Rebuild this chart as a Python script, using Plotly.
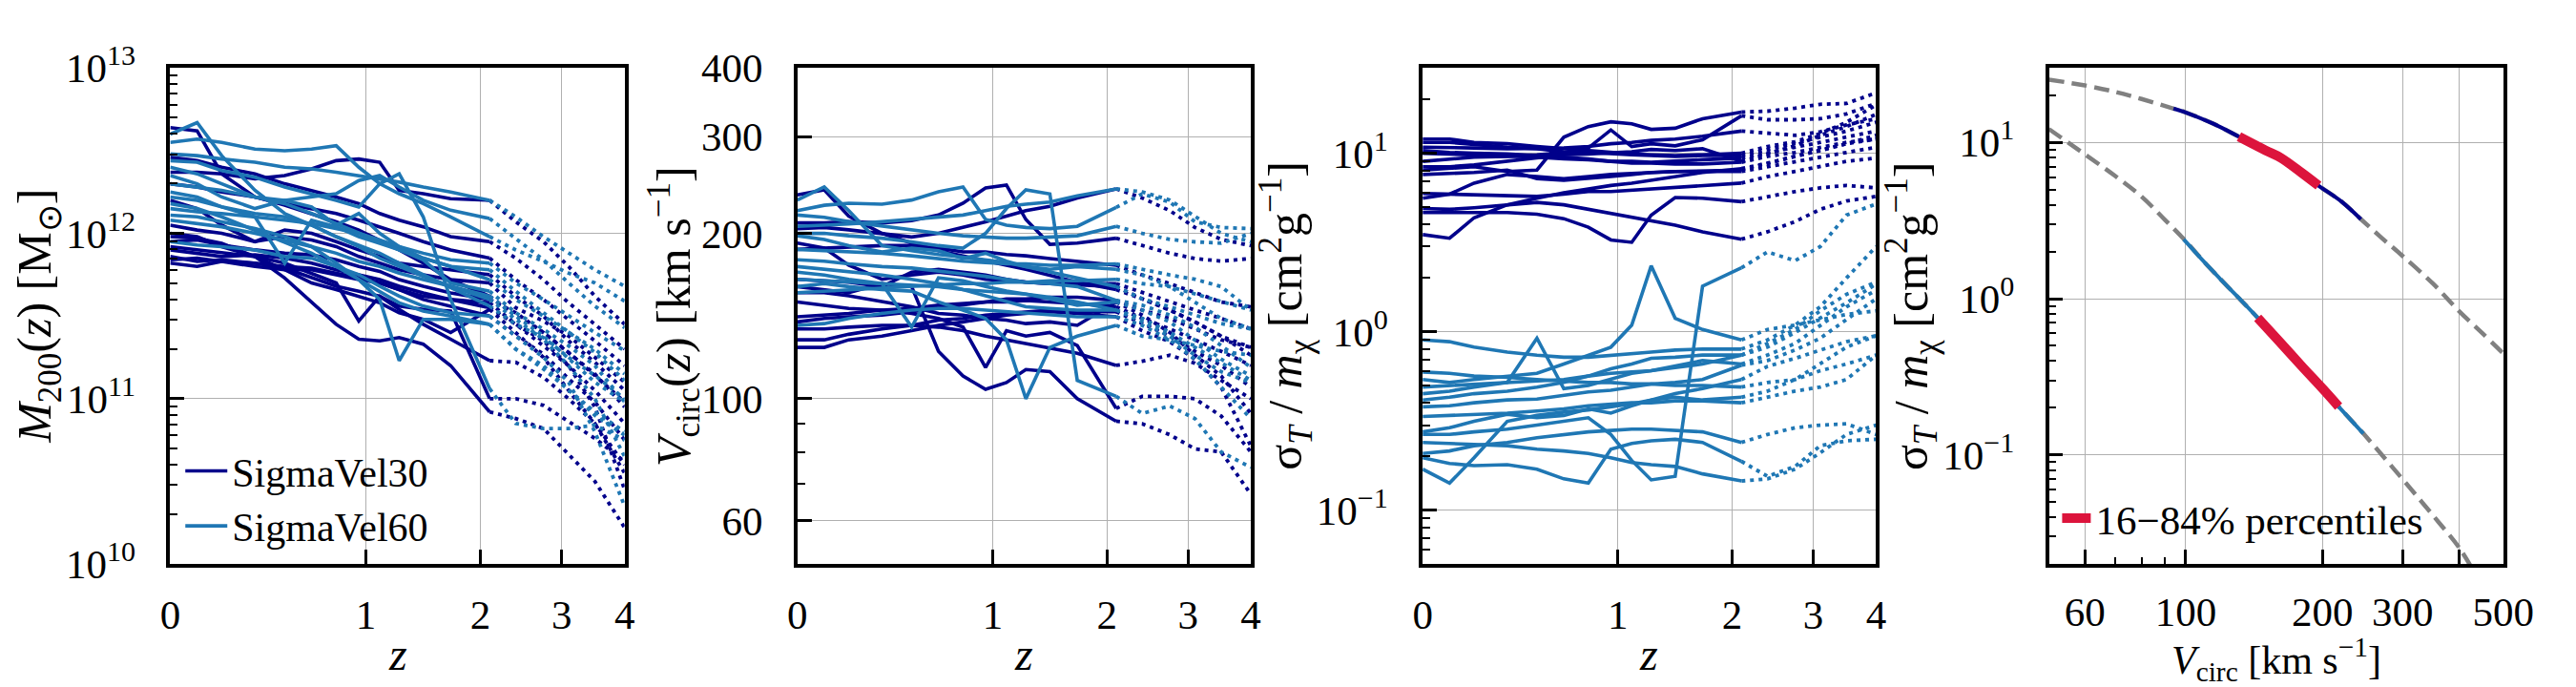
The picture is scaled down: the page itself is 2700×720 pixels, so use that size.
import plotly.graph_objects as go
from plotly.subplots import make_subplots

# redshift grid of the halo tracks: solid part (z <= 2.1) and dotted part
Z_SOLID = [0, 0.1, 0.2, 0.35, 0.5, 0.65, 0.8, 0.95, 1.1, 1.25, 1.45, 1.7, 2.1]
Z_DOTTED = [2.1, 2.4, 2.75, 3.1, 3.5, 4.0]
N_SOLID = len(Z_SOLID)

# log10(M200 / Msun), one row per halo (13 solid values, then 5 dotted)
LOGM_SV30 = [
    [12.64, 12.62, 12.36, 12.22, 12.17, 12.12, 12.07, 12.02, 11.96, 11.90, 11.82, 11.72, 11.62, 11.50, 11.40, 11.28, 11.14, 10.98],
    [12.37, 12.37, 12.36, 12.33, 12.35, 12.39, 12.44, 12.45, 12.43, 12.26, 12.24, 12.21, 12.20, 12.07, 11.95, 11.80, 11.62, 11.45],
    [11.98, 11.97, 11.94, 11.86, 11.73, 11.58, 11.45, 11.36, 11.35, 11.37, 11.33, 11.20, 10.92, 10.88, 10.82, 10.66, 10.50, 10.22],
    [11.92, 11.90, 11.88, 11.86, 11.82, 11.76, 11.70, 11.47, 11.62, 11.56, 11.54, 11.53, 11.00, 11.00, 10.96, 10.86, 10.76, 10.62],
    [11.84, 11.85, 11.83, 11.82, 11.79, 11.73, 11.68, 11.65, 11.62, 11.54, 11.45, 11.36, 11.23, 11.22, 11.13, 11.00, 10.85, 10.55],
    [11.90, 11.88, 11.86, 11.87, 11.85, 11.82, 11.78, 11.75, 11.72, 11.68, 11.64, 11.60, 11.55, 11.45, 11.32, 11.20, 11.05, 10.85],
    [11.86, 11.83, 11.84, 11.82, 11.80, 11.79, 11.76, 11.73, 11.70, 11.66, 11.60, 11.56, 11.50, 11.38, 11.27, 11.12, 10.98, 10.75],
    [11.95, 11.96, 11.93, 11.90, 11.88, 11.87, 11.84, 11.80, 11.77, 11.72, 11.68, 11.64, 11.60, 11.52, 11.40, 11.28, 11.15, 10.95],
    [12.05, 12.02, 12.00, 11.95, 12.02, 12.00, 11.95, 11.90, 11.86, 11.82, 11.80, 11.78, 11.75, 11.62, 11.50, 11.35, 11.22, 11.05],
    [12.20, 12.15, 12.05, 11.95, 11.98, 11.96, 11.92, 11.86, 11.82, 11.78, 11.75, 11.72, 11.70, 11.55, 11.47, 11.38, 11.25, 11.10],
    [12.30, 12.28, 12.25, 12.22, 12.18, 12.15, 12.12, 12.08, 12.04, 12.00, 11.95, 11.90, 11.85, 11.72, 11.60, 11.48, 11.35, 11.20],
    [11.82, 11.80, 11.83, 11.80, 11.78, 11.78, 11.75, 11.72, 11.70, 11.66, 11.62, 11.60, 11.58, 11.45, 11.35, 11.20, 10.95, 10.45],
    [12.46, 12.44, 12.40, 12.36, 12.30, 12.26, 12.22, 12.18, 12.12, 12.08, 12.04, 11.98, 11.95, 11.85, 11.72, 11.58, 11.45, 11.30],
    [12.00, 11.98, 11.92, 11.86, 11.78, 11.70, 11.66, 11.62, 11.58, 11.52, 11.48, 11.40, 11.54, 11.40, 11.25, 11.05, 10.85, 10.60],
]
LOGM_SV60 = [
    [12.60, 12.67, 12.47, 12.26, 12.12, 12.05, 11.98, 11.93, 11.88, 11.82, 11.75, 11.67, 11.56, 11.45, 11.37, 11.25, 11.14, 11.00],
    [12.55, 12.57, 12.55, 12.51, 12.50, 12.51, 12.53, 12.40, 12.30, 12.24, 12.18, 12.10, 11.98, 11.90, 11.83, 11.76, 11.70, 11.59],
    [12.48, 12.47, 12.45, 12.43, 12.40, 12.39, 12.37, 12.35, 12.33, 12.31, 12.28, 12.25, 12.20, 12.10, 11.98, 11.88, 11.78, 11.68],
    [12.44, 12.43, 12.38, 12.34, 12.28, 12.24, 12.20, 12.16, 12.30, 12.36, 12.10, 11.60, 11.06, 10.85, 10.82, 10.82, 10.84, 10.75],
    [12.11, 12.10, 12.07, 12.03, 11.98, 11.92, 11.82, 11.72, 11.60, 11.23, 11.48, 11.48, 11.45, 11.30, 11.20, 11.05, 10.90, 10.78],
    [12.18, 12.15, 12.10, 12.02, 11.95, 11.88, 11.80, 11.72, 11.65, 11.58, 11.53, 11.50, 11.45, 11.30, 11.18, 11.05, 10.92, 10.80],
    [12.30, 12.28, 12.26, 12.22, 12.18, 12.12, 12.06, 12.00, 11.95, 11.90, 11.85, 11.80, 11.72, 11.60, 11.50, 11.40, 11.30, 11.15],
    [12.22, 12.20, 12.16, 12.12, 12.10, 12.05, 11.98, 11.92, 11.85, 11.80, 11.74, 11.68, 11.62, 11.50, 11.38, 11.24, 11.10, 10.98],
    [12.08, 12.06, 12.04, 12.00, 11.96, 11.92, 11.88, 11.83, 11.80, 11.76, 11.72, 11.68, 11.60, 11.48, 11.36, 11.20, 11.00, 10.65],
    [12.35, 12.30, 12.22, 12.15, 12.20, 12.16, 12.05, 12.12, 12.00, 11.92, 11.85, 11.80, 11.78, 11.65, 11.52, 11.40, 11.28, 11.11],
    [11.95, 11.93, 11.92, 11.90, 11.86, 11.85, 11.80, 11.75, 11.68, 11.62, 11.56, 11.52, 11.50, 11.38, 11.25, 11.10, 10.80, 10.35],
    [12.15, 12.13, 12.12, 12.10, 12.08, 12.06, 12.03, 12.00, 11.96, 11.92, 11.88, 11.84, 11.82, 11.70, 11.60, 11.50, 11.40, 11.29],
    [12.25, 12.22, 12.16, 12.10, 11.82, 12.08, 12.04, 11.98, 11.94, 11.90, 11.84, 11.70, 11.65, 11.52, 11.42, 11.32, 11.20, 10.98],
    [12.40, 12.36, 12.30, 12.22, 12.20, 12.22, 12.24, 12.32, 12.35, 12.28, 12.20, 12.14, 12.09, 11.97, 11.84, 11.70, 11.56, 11.43],
]

# Vcirc [km/s]
VCIRC_SV30 = [
    [235, 240, 215, 200, 192, 186, 182, 178, 175, 172, 168, 163, 158, 152, 145, 138, 130, 120],
    [209, 209, 210, 209, 211, 216, 227, 242, 245, 212, 191, 192, 196, 190, 184, 180, 178, 180],
    [160, 158, 156, 162, 160, 122, 110, 104, 107, 113, 112, 100, 91, 90, 86, 81, 80, 67],
    [150, 148, 146, 145, 143, 140, 135, 114, 133, 130, 132, 125, 96, 101, 101, 100, 93, 80],
    [134, 134, 135, 136, 136, 135, 133, 130, 128, 126, 124, 121, 115, 117, 120, 116, 108, 100],
    [141, 142, 143, 145, 146, 148, 149, 150, 150, 151, 150, 149, 147, 140, 134, 128, 122, 115],
    [128, 128, 131, 134, 136, 139, 140, 142, 143, 144, 145, 144, 144, 137, 130, 122, 115, 105],
    [138, 140, 141, 142, 144, 146, 148, 150, 152, 152, 153, 153, 151, 145, 140, 134, 128, 124],
    [165, 164, 163, 160, 170, 172, 170, 168, 165, 163, 162, 161, 160, 152, 145, 138, 130, 124],
    [192, 188, 175, 165, 168, 170, 168, 165, 164, 163, 162, 162, 162, 156, 150, 145, 140, 134],
    [187, 188, 189, 190, 190, 188, 185, 185, 183, 182, 180, 178, 175, 168, 162, 156, 150, 147],
    [124, 124, 128, 130, 133, 136, 138, 140, 142, 143, 144, 143, 141, 133, 127, 118, 105, 82],
    [204, 205, 203, 200, 197, 200, 205, 210, 215, 220, 224, 232, 241, 232, 220, 205, 195, 190],
    [156, 156, 154, 150, 147, 143, 142, 140, 139, 137, 138, 136, 150, 142, 132, 120, 110, 94],
]
VCIRC_SV60 = [
    [230, 243, 220, 190, 186, 183, 181, 179, 177, 174, 170, 166, 160, 152, 147, 142, 137, 134],
    [220, 225, 227, 226, 230, 238, 243, 212, 207, 205, 204, 206, 223, 236, 228, 210, 205, 204],
    [206, 207, 208, 210, 212, 214, 216, 220, 224, 226, 228, 234, 241, 238, 230, 215, 200, 193],
    [200, 200, 198, 196, 193, 190, 188, 200, 222, 240, 236, 108, 101, 94, 97, 92, 80, 75],
    [160, 162, 160, 158, 157, 150, 145, 140, 128, 100, 124, 130, 136, 130, 128, 125, 122, 120],
    [174, 172, 170, 168, 165, 162, 158, 154, 150, 147, 146, 145, 145, 140, 132, 124, 116, 108],
    [187, 186, 185, 184, 182, 180, 178, 177, 176, 176, 175, 175, 176, 172, 168, 165, 160, 145],
    [179, 178, 176, 174, 173, 171, 169, 167, 165, 163, 162, 160, 151, 148, 142, 135, 125, 114],
    [165, 164, 163, 162, 161, 160, 158, 157, 156, 155, 153, 150, 145, 138, 130, 120, 112, 107],
    [198, 195, 190, 185, 188, 186, 180, 184, 178, 174, 172, 174, 172, 168, 160, 150, 140, 134],
    [136, 137, 140, 143, 145, 146, 146, 145, 144, 143, 142, 141, 141, 136, 128, 118, 105, 92],
    [156, 157, 158, 159, 160, 161, 162, 162, 163, 163, 164, 164, 165, 162, 160, 155, 150, 145],
    [170, 168, 165, 162, 135, 166, 164, 160, 157, 155, 152, 148, 150, 145, 138, 128, 118, 110],
    [216, 214, 210, 206, 203, 200, 198, 197, 196, 196, 197, 198, 206, 200, 195, 193, 192, 200],
]

# sigma_T / m_chi [cm^2/g]
SIGMA_SV30 = [
    [3.5, 3.34, 4.35, 5.14, 5.6, 6.0, 6.3, 6.6, 6.8, 7.05, 7.4, 7.8, 8.2, 8.8, 9.6, 10.35, 11.3, 12.6],
    [4.65, 4.65, 4.6, 4.65, 4.55, 4.3, 3.85, 3.27, 3.17, 4.5, 5.65, 5.6, 5.35, 5.73, 6.1, 6.4, 6.6, 6.4],
    [8.05, 8.2, 8.4, 7.9, 8.05, 12.3, 14.1, 15.0, 14.6, 13.6, 13.8, 15.6, 17.0, 17.2, 17.9, 18.8, 19.0, 21.8],
    [9.0, 9.3, 9.5, 9.6, 9.8, 10.1, 10.7, 13.5, 10.9, 11.3, 11.0, 11.9, 16.2, 15.4, 15.4, 15.6, 16.6, 19.0],
    [10.8, 10.8, 10.7, 10.6, 10.6, 10.7, 10.9, 11.3, 11.5, 11.8, 12.0, 12.45, 13.3, 13.0, 12.6, 13.2, 14.4, 15.6],
    [10.0, 9.9, 9.8, 9.6, 9.5, 9.3, 9.2, 9.0, 9.0, 8.9, 9.0, 9.2, 9.4, 10.1, 10.8, 11.5, 12.3, 13.3],
    [11.5, 11.5, 11.2, 10.8, 10.6, 10.2, 10.1, 9.9, 9.8, 9.7, 9.6, 9.7, 9.7, 10.5, 11.3, 12.3, 13.3, 14.9],
    [10.35, 10.1, 10.0, 9.9, 9.7, 9.5, 9.3, 9.0, 8.8, 8.8, 8.7, 8.7, 8.9, 9.6, 10.1, 10.8, 11.5, 12.0],
    [7.6, 7.7, 7.8, 8.05, 7.2, 7.05, 7.2, 7.4, 7.6, 7.8, 7.9, 7.95, 8.05, 8.8, 9.6, 10.35, 11.3, 12.0],
    [5.6, 5.9, 6.8, 7.6, 7.4, 7.2, 7.4, 7.6, 7.7, 7.8, 7.9, 7.9, 7.9, 8.4, 9.0, 9.6, 10.1, 10.8],
    [5.95, 5.9, 5.8, 5.73, 5.73, 5.9, 6.1, 6.1, 6.2, 6.3, 6.4, 6.6, 6.8, 7.4, 7.9, 8.4, 9.0, 9.4],
    [12.0, 12.0, 11.5, 11.3, 10.9, 10.6, 10.35, 10.1, 9.9, 9.8, 9.7, 9.8, 10.0, 10.9, 11.6, 12.9, 14.9, 18.6],
    [4.9, 4.85, 4.95, 5.14, 5.3, 5.14, 4.85, 4.6, 4.35, 4.14, 3.95, 3.63, 3.3, 3.63, 4.14, 4.85, 5.4, 5.73],
    [8.4, 8.4, 8.6, 9.0, 9.4, 9.8, 9.9, 10.1, 10.2, 10.5, 10.35, 10.6, 9.0, 9.9, 11.0, 12.6, 14.1, 16.5],
]
SIGMA_SV60 = [
    [0.17, 0.142, 0.197, 0.315, 0.34, 0.355, 0.365, 0.38, 0.395, 0.415, 0.45, 0.48, 0.54, 0.64, 0.71, 0.79, 0.88, 0.95],
    [0.197, 0.183, 0.178, 0.18, 0.17, 0.15, 0.142, 0.22, 0.237, 0.245, 0.25, 0.24, 0.188, 0.155, 0.176, 0.23, 0.245, 0.25],
    [0.24, 0.237, 0.234, 0.23, 0.22, 0.215, 0.208, 0.197, 0.185, 0.18, 0.176, 0.16, 0.146, 0.15, 0.17, 0.21, 0.266, 0.30],
    [0.266, 0.266, 0.275, 0.285, 0.30, 0.315, 0.33, 0.266, 0.19, 0.148, 0.155, 1.8, 2.28, 2.8, 2.5, 3.0, 4.5, 5.2],
    [0.54, 0.52, 0.54, 0.565, 0.585, 0.66, 0.74, 0.82, 1.09, 2.34, 1.19, 1.03, 0.90, 1.03, 1.09, 1.17, 1.25, 1.31],
    [0.415, 0.43, 0.45, 0.465, 0.49, 0.52, 0.565, 0.62, 0.66, 0.71, 0.72, 0.74, 0.74, 0.82, 0.99, 1.2, 1.45, 1.85],
    [0.335, 0.34, 0.345, 0.35, 0.36, 0.37, 0.385, 0.395, 0.40, 0.40, 0.41, 0.41, 0.40, 0.43, 0.465, 0.49, 0.54, 0.74],
    [0.38, 0.385, 0.40, 0.415, 0.42, 0.44, 0.46, 0.47, 0.49, 0.51, 0.52, 0.54, 0.65, 0.69, 0.79, 0.92, 1.17, 1.53],
    [0.49, 0.50, 0.51, 0.52, 0.53, 0.54, 0.565, 0.585, 0.595, 0.605, 0.63, 0.66, 0.74, 0.86, 1.03, 1.31, 1.62, 1.9],
    [0.275, 0.29, 0.315, 0.345, 0.33, 0.34, 0.37, 0.35, 0.385, 0.415, 0.43, 0.415, 0.43, 0.465, 0.54, 0.66, 0.82, 0.95],
    [0.90, 0.88, 0.82, 0.77, 0.74, 0.72, 0.72, 0.74, 0.755, 0.77, 0.79, 0.80, 0.80, 0.90, 1.09, 1.38, 2.0, 3.0],
    [0.595, 0.585, 0.565, 0.555, 0.54, 0.53, 0.52, 0.52, 0.51, 0.51, 0.50, 0.50, 0.49, 0.52, 0.54, 0.605, 0.66, 0.74],
    [0.45, 0.465, 0.49, 0.52, 0.92, 0.48, 0.50, 0.54, 0.585, 0.605, 0.64, 0.69, 0.66, 0.74, 0.86, 1.09, 1.38, 1.71],
    [0.208, 0.215, 0.23, 0.24, 0.255, 0.266, 0.275, 0.28, 0.285, 0.285, 0.28, 0.275, 0.24, 0.266, 0.29, 0.30, 0.305, 0.266],
]

# right panel: cross-section models sigma(V) and the Vcirc ranges of the halos
CURVE_V_SV30 = [50, 60, 70, 80, 94, 100, 115, 131, 150, 162, 180, 196, 220, 243, 270, 300, 350, 400, 450, 500]
CURVE_S_SV30 = [25.3, 23.2, 21.1, 19.0, 16.5, 15.6, 13.2, 10.9, 8.9, 7.98, 6.4, 5.3, 4.2, 3.23, 2.45, 1.88, 1.25, 0.83, 0.6, 0.445]
CURVE_V_SV60 = [50, 60, 70, 80, 90, 100, 110, 120, 130, 144, 160, 180, 200, 217, 246, 300, 350, 400, 430]
CURVE_S_SV60 = [12.2, 8.4, 6.1, 4.5, 3.2, 2.34, 1.71, 1.31, 1.03, 0.755, 0.54, 0.37, 0.266, 0.204, 0.137, 0.070, 0.041, 0.0254, 0.018]

RANGE_V_SV30 = [94, 100, 115, 131, 150, 162, 180, 196, 220, 243]
RANGE_S_SV30 = [16.5, 15.6, 13.2, 10.9, 8.9, 7.98, 6.4, 5.3, 4.2, 3.23]
PCT_V_SV30 = [131, 150, 162, 180, 196]
PCT_S_SV30 = [10.9, 8.9, 7.98, 6.4, 5.3]
RANGE_V_SV60 = [99, 110, 120, 130, 144, 160, 180, 200, 217, 246]
RANGE_S_SV60 = [2.4, 1.71, 1.31, 1.03, 0.755, 0.54, 0.37, 0.266, 0.204, 0.137]
PCT_V_SV60 = [144, 160, 180, 200, 217]
PCT_S_SV60 = [0.755, 0.54, 0.37, 0.266, 0.204]

NAVY = "#00008b"
BLUE = "#1f77b4"
RED = "#dc143c"
GREY = "#808080"
FONT = "Liberation Serif, Times New Roman, serif"
FS = 43
W, H = 2700, 720

fig = make_subplots(rows=1, cols=4)


def add_tracks(tracks, color, col, name, log=False):
    for i, vals in enumerate(tracks):
        y = [10 ** v for v in vals] if log else vals
        fig.add_trace(go.Scatter(
            x=[1 + z for z in Z_SOLID], y=y[:N_SOLID], mode="lines",
            line=dict(color=color, width=3.6), name=name,
            showlegend=(col == 1 and i == 0), hoverinfo="skip"), row=1, col=col)
        fig.add_trace(go.Scatter(
            x=[1 + z for z in Z_DOTTED], y=y[N_SOLID - 1:], mode="lines",
            line=dict(color=color, width=3.8, dash="4px,5px"),
            showlegend=False, hoverinfo="skip"), row=1, col=col)


add_tracks(LOGM_SV30, NAVY, 1, "SigmaVel30", log=True)
add_tracks(LOGM_SV60, BLUE, 1, "SigmaVel60", log=True)
add_tracks(VCIRC_SV30, NAVY, 2, "SigmaVel30")
add_tracks(VCIRC_SV60, BLUE, 2, "SigmaVel60")
add_tracks(SIGMA_SV30, NAVY, 3, "SigmaVel30")
add_tracks(SIGMA_SV60, BLUE, 3, "SigmaVel60")

# right panel
for vx, sy in [(CURVE_V_SV30, CURVE_S_SV30), (CURVE_V_SV60, CURVE_S_SV60)]:
    fig.add_trace(go.Scatter(x=vx, y=sy, mode="lines", line=dict(color=GREY, width=4.5, dash="16px,8px", shape="spline"),
                             showlegend=False, hoverinfo="skip"), row=1, col=4)
fig.add_trace(go.Scatter(x=RANGE_V_SV30, y=RANGE_S_SV30, mode="lines", line=dict(color=NAVY, width=4, shape="spline"),
                         showlegend=False, hoverinfo="skip"), row=1, col=4)
fig.add_trace(go.Scatter(x=RANGE_V_SV60, y=RANGE_S_SV60, mode="lines", line=dict(color=BLUE, width=4, shape="spline"),
                         showlegend=False, hoverinfo="skip"), row=1, col=4)
fig.add_trace(go.Scatter(x=PCT_V_SV30, y=PCT_S_SV30, mode="lines", line=dict(color=RED, width=10, shape="spline"),
                         name="16\u221284% percentiles", legend="legend2", showlegend=True, hoverinfo="skip"), row=1, col=4)
fig.add_trace(go.Scatter(x=PCT_V_SV60, y=PCT_S_SV60, mode="lines", line=dict(color=RED, width=10, shape="spline"),
                         legend="legend2", showlegend=False, hoverinfo="skip"), row=1, col=4)

tickfont = dict(family=FONT, size=FS, color="black")
base = dict(showline=True, mirror=True, linecolor="black", linewidth=3.5, ticks="inside", ticklen=15,
            tickwidth=2.5, tickcolor="black", showgrid=True, gridcolor="#b0b0b0", gridwidth=1.4,
            zeroline=False, tickfont=tickfont, type="log", tickmode="array")


def minor(vals, length=8):
    return dict(tickmode="array", tickvals=vals, ticks="inside", ticklen=length, tickwidth=2,
                tickcolor="black", showgrid=False)


def decades(lo, hi, extra=()):
    return [k * 10.0 ** e for e in range(lo, hi) for k in range(2, 10)] + list(extra)


pow_text = {1e-1: "10<sup>\u22121</sup>", 1: "10<sup>0</sup>", 10: "10<sup>1</sup>",
            1e10: "10<sup>10</sup>", 1e11: "10<sup>11</sup>", 1e12: "10<sup>12</sup>", 1e13: "10<sup>13</sup>"}

x_domains = [(162, 646), (830, 1313), (1496, 1979), (2163, 2647)]
y_domain = [1 - 598 / H, 1 - 36 / H]

for i, (a, b) in enumerate(x_domains, start=1):
    fig.update_layout({f"xaxis{i if i > 1 else ''}": dict(domain=[a / W, b / W]),
                       f"yaxis{i if i > 1 else ''}": dict(domain=y_domain)})

z_ticks = [1, 2, 3, 4, 5]
for c in (1, 2, 3):
    fig.update_xaxes(base, row=1, col=c, range=[0, 0.69897], tickvals=z_ticks,
                     ticktext=["0", "1", "2", "3", "4"], ticklabelstandoff=12)

m_ticks = [1e10, 1e11, 1e12, 1e13]
fig.update_yaxes(base, row=1, col=1, range=[10, 13], tickvals=m_ticks,
                 ticktext=[pow_text[t] for t in m_ticks], minor=minor(decades(10, 13)), ticklabelstandoff=24)
v_ticks = [60, 100, 200, 300, 400]
fig.update_yaxes(base, row=1, col=2, range=[1.69897, 2.60206], tickvals=v_ticks,
                 ticktext=[str(t) for t in v_ticks], minor=minor([70, 80, 90]), ticklabelstandoff=24)
s_ticks = [0.1, 1, 10]
fig.update_yaxes(base, row=1, col=3, range=[-1.30103, 1.47712], tickvals=s_ticks,
                 ticktext=[pow_text[t] for t in s_ticks], minor=minor(decades(-2, 1, [20])), ticklabelstandoff=24)
fig.update_xaxes(base, row=1, col=4, range=[1.69897, 2.69897], tickvals=[60, 100, 200, 300, 400, 500],
                 ticktext=["60", "100", "200", "300", "", "500"], minor=minor([70, 80, 90], 7), ticklabelstandoff=9)
fig.update_yaxes(base, row=1, col=4, range=[-1.69897, 1.47712], tickvals=s_ticks,
                 ticktext=[pow_text[t] for t in s_ticks], minor=minor(decades(-2, 1, [20])), ticklabelstandoff=24)

sigma_title = "\u03c3<sub><i>T</i></sub> / <i>m</i><sub>\u03c7</sub> [cm<sup>2</sup>g<sup>\u22121</sup>]"
# (x px, y px, angle, font size, text)
titles = [
    (404, 700, 0, 48, "<i>z</i>"), (1071, 700, 0, 48, "<i>z</i>"), (1737, 700, 0, 48, "<i>z</i>"),
    (2405, 706, 0, 42, "<i>V</i><sub>circ</sub> [km s<sup>\u22121</sup>]"),
    (22, 317, -90, 50, "<i>M</i><sub>200</sub>(<i>z</i>) [M<sub>\u2299</sub>]"),
    (698, 317, -90, 50, "<i>V</i><sub>circ</sub>(<i>z</i>) [km s<sup>\u22121</sup>]"),
    (1350, 317, -90, 50, sigma_title),
    (2016, 317, -90, 50, sigma_title),
]
annotations = [dict(x=px / W, y=1 - py / H, xref="paper", yref="paper", text=t, textangle=ang,
                    showarrow=False, xanchor="center", yanchor="middle",
                    font=dict(family=FONT, size=fs, color="black")) for px, py, ang, fs, t in titles]


def legend_box(x, y, size, width):
    return dict(x=x / W, y=1 - y / H, xanchor="left", yanchor="middle", bgcolor="rgba(0,0,0,0)",
                font=dict(family=FONT, size=size, color="black"), itemwidth=width, tracegroupgap=0)


fig.update_layout(
    width=W, height=H, margin=dict(l=0, r=0, t=0, b=0),
    paper_bgcolor="white", plot_bgcolor="white",
    font=dict(family=FONT, size=FS, color="black"),
    annotations=annotations,
    legend=legend_box(173, 524, 42, 44),
    legend2=legend_box(2172, 546, 43, 30),
)

fig.write_html("out.html")
